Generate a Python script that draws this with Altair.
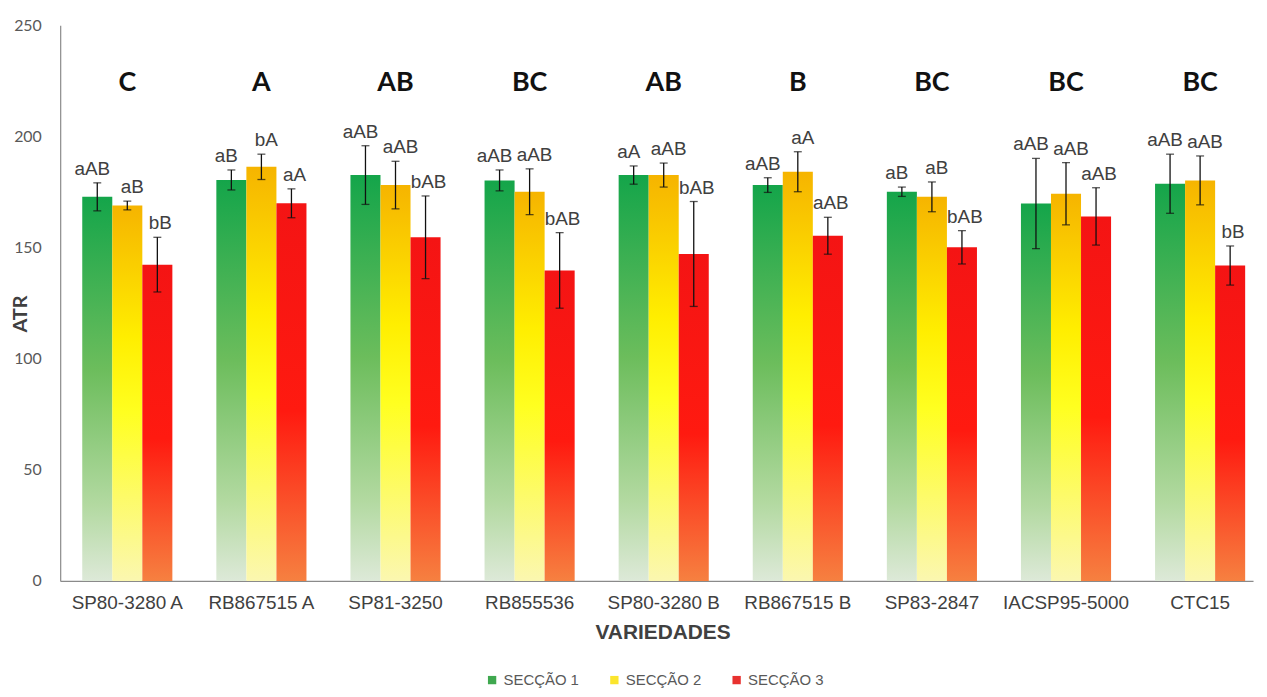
import altair as alt
import pandas as pd

varieties = ["SP80-3280 A", "RB867515 A", "SP81-3250", "RB855536", "SP80-3280 B",
             "RB867515 B", "SP83-2847", "IACSP95-5000", "CTC15"]
series = ["SECÇÃO 1", "SECÇÃO 2", "SECÇÃO 3"]

s1_mean = [172.8, 180.4, 182.6, 180.2, 182.6, 178.1, 175.1, 169.8, 178.7]
s1_err = [6.3, 4.5, 13.2, 4.7, 4.1, 3.3, 2.1, 20.3, 13.3]
s2_mean = [168.9, 186.3, 178.1, 175.1, 182.6, 184.1, 172.8, 174.2, 180.2]
s2_err = [2.0, 5.7, 10.7, 10.3, 5.4, 9.0, 6.7, 14.0, 11.0]
s3_mean = [142.3, 169.9, 154.6, 139.7, 147.1, 155.3, 150.1, 164.0, 141.9]
s3_err = [12.3, 6.5, 18.6, 17.0, 23.6, 8.3, 7.5, 12.9, 8.8]

s1_lab = ["aAB", "aB", "aAB", "aAB", "aA", "aAB", "aB", "aAB", "aAB"]
s2_lab = ["aB", "bA", "aAB", "aAB", "aAB", "aA", "aB", "aAB", "aAB"]
s3_lab = ["bB", "aA", "bAB", "bAB", "bAB", "aAB", "bAB", "aAB", "bB"]

group_letters = ["C", "A", "AB", "BC", "AB", "B", "BC", "BC", "BC"]
group_letter_level = 224

rows = []
for s, means, errs, labs in zip(series, [s1_mean, s2_mean, s3_mean],
                                [s1_err, s2_err, s3_err], [s1_lab, s2_lab, s3_lab]):
    for v, m, e, l in zip(varieties, means, errs, labs):
        rows.append({"variety": v, "series": s, "mean": m, "lo": m - e, "hi": m + e, "lab": l})
df = pd.DataFrame(rows)
gdf = pd.DataFrame({"variety": varieties, "letter": group_letters})

def grad(stops):
    return alt.Gradient(gradient="linear", x1=0, x2=0, y1=0, y2=1,
                        stops=[alt.GradientStop(color=c, offset=o) for o, c in stops])

grads = {
    "SECÇÃO 1": grad([(0, "#14a54a"), (0.45, "#6cbd5c"), (0.8, "#b2d9a0"), (1, "#dde9d8")]),
    "SECÇÃO 2": grad([(0, "#f6b400"), (0.35, "#ffee00"), (0.55, "#ffff20"), (1, "#fbf7b0")]),
    "SECÇÃO 3": grad([(0, "#f41414"), (0.55, "#ff1a10"), (1, "#f68040")]),
}
label_dx = {"SECÇÃO 1": -5, "SECÇÃO 2": 5, "SECÇÃO 3": 3}

x_enc = alt.X("variety:N", sort=varieties,
              scale=alt.Scale(paddingInner=0.328, paddingOuter=0.1116, align=0.737),
              axis=alt.Axis(title="VARIEDADES", labelAngle=0, ticks=False, tickSize=0,
                            labelPadding=13, labelFont="Liberation Sans", labelFontSize=19,
                            labelColor="#404040", domainColor="#8a8a8a", domainWidth=1.2,
                            titleFont="Liberation Sans", titleFontSize=21, titleFontWeight="bold",
                            titleColor="#404040", titleX=606, titleY=52, titleBaseline="middle",
                            titleAlign="center"))
xo_enc = alt.XOffset("series:N", scale=alt.Scale(domain=series, paddingInner=0, paddingOuter=0))
y_scale = alt.Scale(domain=[0, 250], nice=False)
y_axis = alt.Axis(title="ATR", values=[0, 50, 100, 150, 200, 250], grid=False, ticks=False,
                  tickSize=0, labelPadding=19, labelFont="Lato", labelFontSize=16,
                  labelColor="#595959", domainColor="#8a8a8a", domainWidth=1.2,
                  titleFont="Lato", titleFontSize=20, titleFontWeight="bold", titleColor="#404040",
                  titleX=-40, titleY=290, titleAngle=270, titleBaseline="middle", titleAlign="center")


def Y(field):
    return alt.Y(field, scale=y_scale, axis=y_axis)


base = alt.Chart(df)
X = alt.X("variety:N", sort=varieties)

layers = []
for s in series:
    layers.append(
        base.transform_filter(alt.datum.series == s).mark_bar(color=grads[s]).encode(
            x=x_enc, xOffset=xo_enc, y=Y("mean:Q"))
    )

layers.append(base.mark_rule(color="#111111", strokeWidth=1.3).encode(
    x=X, xOffset=xo_enc, y=Y("lo:Q"), y2="hi:Q"))
for f in ["lo:Q", "hi:Q"]:
    layers.append(base.mark_tick(color="#111111", size=8, thickness=1.3, orient="horizontal").encode(
        x=X, xOffset=xo_enc, y=Y(f)))

for s in series:
    layers.append(
        base.transform_filter(alt.datum.series == s).mark_text(
            font="Liberation Sans", fontSize=19, color="#404040",
            baseline="bottom", dy=-4, dx=label_dx[s]).encode(
            x=X, xOffset=xo_enc, y=Y("hi:Q"), text="lab:N")
    )

layers.append(alt.Chart(gdf).mark_text(font="Lato", fontWeight="bold", fontSize=27,
                                       color="#111111", baseline="middle").encode(
    x=X, y=alt.Y(datum=group_letter_level, scale=y_scale, axis=y_axis), text="letter:N"))

layers.append(base.mark_square(opacity=0, size=10).encode(
    x=X, xOffset=xo_enc, y=Y("mean:Q"),
    color=alt.Color("series:N", scale=alt.Scale(domain=series,
                                                range=["#3fa84f", "#fbe52d", "#e8312f"]),
                    legend=alt.Legend(title=None, orient="none", direction="horizontal",
                                      legendX=427, legendY=651, symbolType="square",
                                      symbolSize=70, symbolOpacity=1, symbolStrokeWidth=0,
                                      labelFont="Liberation Sans", labelFontSize=15,
                                      labelColor="#595959", columnPadding=28,
                                      labelOffset=4))))

chart = alt.layer(*layers).properties(
    width=1200, height=559,
    padding={"left": 52.5, "top": 15.3, "right": 6, "bottom": 115},
    autosize=alt.AutoSizeParams(type="none"),
    background="white",
).configure_view(stroke=None)

chart.save("out.html", embed_options={"renderer": "svg", "actions": False})
